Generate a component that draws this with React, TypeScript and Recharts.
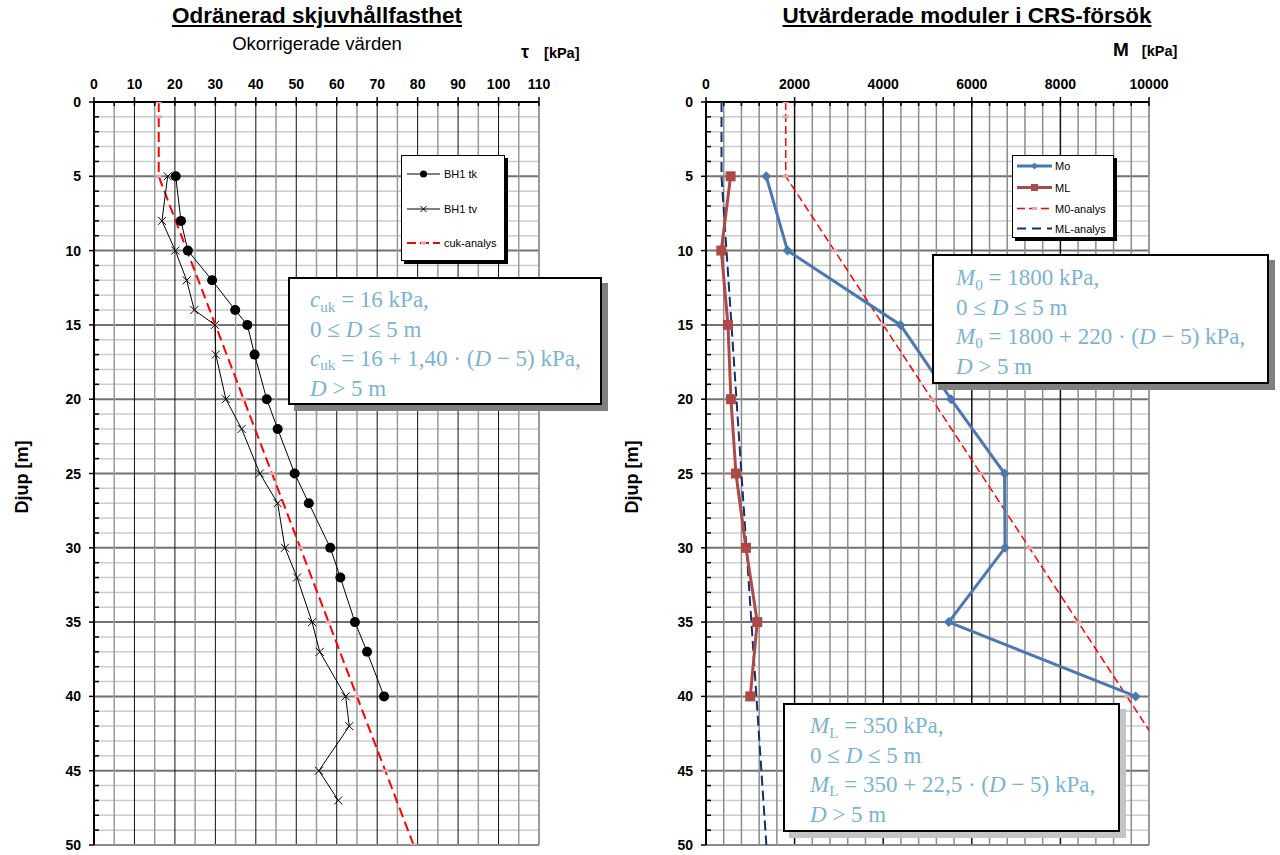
import React from "react";
import { ScatterChart, Scatter, XAxis, YAxis, ReferenceLine } from "recharts";

// ---- Odränerad skjuvhållfasthet (left)
const tkDepth = [5, 8, 10, 12, 14, 15, 17, 20, 22, 25, 27, 30, 32, 35, 37, 40];
const tkTau = [20.2, 21.5, 23.2, 29.2, 34.9, 37.9, 39.7, 42.7, 45.4, 49.6, 53.1, 58.4, 60.9, 64.5, 67.5, 71.7];
const tvDepth = [5, 8, 10, 12, 14, 15, 17, 20, 22, 25, 27, 30, 32, 35, 37, 40, 42, 45, 47];
const tvTau = [18.2, 16.8, 20.1, 22.9, 24.8, 29.9, 30.1, 32.6, 36.5, 41, 45.4, 47.2, 50.2, 53.9, 55.8, 62.2, 63.1, 55.6, 60.4];
const analysisDepth = [0, 1, 5, 10, 15, 20, 25, 30, 35, 40, 45, 50];
const cukTau = [16, 16, 16, 23, 30, 37, 44, 51, 58, 65, 72, 79];

// ---- Utvärderade moduler i CRS-försök (right)
const crsDepth = [5, 10, 15, 20, 25, 30, 35, 40];
const moValues = [1360, 1840, 4390, 5530, 6740, 6750, 5480, 9700];
const mlValues = [555, 345, 496, 563, 676, 902, 1157, 999];
const m0Analysis = [1800, 1800, 1800, 2900, 4000, 5100, 6200, 7300, 8400, 9500, 10600, 11700];
const mlAnalysis = [350, 350, 350, 462.5, 575, 687.5, 800, 912.5, 1025, 1137.5, 1250, 1362.5];

// ticks / grid
const tauLabels = [0, 10, 20, 30, 40, 50, 60, 70, 80, 90, 100, 110];
const mLabels = [0, 2000, 4000, 6000, 8000, 10000];
const depthLabels = [0, 5, 10, 15, 20, 25, 30, 35, 40, 45, 50];
const depthTicks = Array.from({ length: 51 }, (_, i) => i);
const tauTicks = Array.from({ length: 23 }, (_, i) => i * 5);
const mTicks = Array.from({ length: 26 }, (_, i) => i * 400);

const pts = (vals: number[], depths: number[]) => vals.map((v, i) => ({ v, d: depths[i] }));

const SANS = "'Liberation Sans', Arial, sans-serif";
const SERIF = "'Liberation Serif', 'DejaVu Serif', serif";
const MATH = "#7ab3d3";

// markers
const Dot = (p: any) => <circle cx={p.cx} cy={p.cy} r={5} fill="#000" />;
const XMark = (p: any) => (
  <path d={`M${p.cx - 4},${p.cy - 4}L${p.cx + 4},${p.cy + 4}M${p.cx - 4},${p.cy + 4}L${p.cx + 4},${p.cy - 4}`} stroke="#000" strokeWidth={1} />
);
const PinkDash = (p: any) => <rect x={p.cx - 3} y={p.cy - 1.5} width={6} height={3} fill="#e8a3a3" />;
const Diamond = (p: any) => (
  <path d={`M${p.cx},${p.cy - 5}L${p.cx + 5},${p.cy}L${p.cx},${p.cy + 5}L${p.cx - 5},${p.cy}Z`} fill="#4a78b2" />
);
const Square = (p: any) => <rect x={p.cx - 5} y={p.cy - 5} width={10} height={10} fill="#ad4a47" />;
const NoMark = () => <g />;

function DepthTick(props: any) {
  const { x, y, payload } = props;
  const v = payload.value;
  const major = depthLabels.includes(v);
  return (
    <g>
      {major ? (
        <line x1={x - 5} x2={x} y1={y} y2={y} stroke="#000" strokeWidth={1.5} />
      ) : (
        <line x1={x} x2={x + 5} y1={y} y2={y} stroke="#000" strokeWidth={1.5} />
      )}
      {major && (
        <text x={x - 13} y={y + 5} textAnchor="end" fontFamily={SANS} fontWeight="bold" fontSize={14} fill="#000">
          {v}
        </text>
      )}
    </g>
  );
}

const topTick = (labels: number[]) => (props: any) => {
  const { x, y, payload } = props;
  const v = payload.value;
  const major = labels.includes(v);
  return (
    <g>
      {major ? (
        <line x1={x} x2={x} y1={y - 5} y2={y + 4} stroke="#000" strokeWidth={1.5} />
      ) : (
        <line x1={x} x2={x} y1={y} y2={y + 4} stroke="#000" strokeWidth={1.5} />
      )}
      {major && (
        <text x={x} y={y - 13} textAnchor="middle" fontFamily={SANS} fontWeight="bold" fontSize={14} fill="#000">
          {v}
        </text>
      )}
    </g>
  );
};

function DepthGrid() {
  return (
    <>
      {depthTicks
        .filter((d) => d % 5 !== 0)
        .map((d) => (
          <ReferenceLine key={"hm" + d} y={d} stroke="#cccccc" strokeWidth={1.5} />
        ))}
      {depthTicks
        .filter((d) => d % 5 === 0 && d > 0)
        .map((d) => (
          <ReferenceLine key={"hM" + d} y={d} stroke="#727272" strokeWidth={2} />
        ))}
    </>
  );
}

type LegendItem = { name: string; color: string; width: number; dash?: string; marker: string };

const leftLegend: LegendItem[] = [
  { name: "BH1 tk", color: "#000", width: 1, marker: "dot" },
  { name: "BH1 tv", color: "#000", width: 1, marker: "x" },
  { name: "cuk-analys", color: "#ff0000", width: 2, dash: "9 4", marker: "pink" },
];
const rightLegend: LegendItem[] = [
  { name: "Mo", color: "#4a78b2", width: 3, marker: "diamond" },
  { name: "ML", color: "#ad4a47", width: 3, marker: "square" },
  { name: "M0-analys", color: "#ff0000", width: 1.5, dash: "8 4", marker: "pink" },
  { name: "ML-analys", color: "#10306e", width: 2, dash: "9 6", marker: "none" },
];

function LegendBox({ items, left, top, width, height, rows, x1, x2, tx }: any) {
  return (
    <div
      style={{
        position: "absolute",
        left,
        top,
        width,
        height,
        background: "#fff",
        border: "1px solid #000",
        boxShadow: "3px 3px 0 #000",
      }}
    >
      <svg width={width} height={height} style={{ display: "block" }}>
        {items.map((it: LegendItem, i: number) => {
          const y = rows[i];
          const cx = (x1 + x2) / 2;
          return (
            <g key={it.name}>
              <line x1={x1} x2={x2} y1={y} y2={y} stroke={it.color} strokeWidth={it.width} strokeDasharray={it.dash} />
              {it.marker === "dot" && <circle cx={cx} cy={y} r={3.5} fill="#000" />}
              {it.marker === "x" && (
                <path d={`M${cx - 3},${y - 3}L${cx + 3},${y + 3}M${cx - 3},${y + 3}L${cx + 3},${y - 3}`} stroke="#000" />
              )}
              {it.marker === "pink" && <rect x={cx - 2.5} y={y - 1.5} width={5} height={3} fill="#e8a3a3" />}
              {it.marker === "diamond" && (
                <path d={`M${cx},${y - 3.5}L${cx + 3.5},${y}L${cx},${y + 3.5}L${cx - 3.5},${y}Z`} fill={it.color} />
              )}
              {it.marker === "square" && <rect x={cx - 3.5} y={y - 3.5} width={7} height={7} fill={it.color} />}
              <text x={tx} y={y + 4} fontFamily={SANS} fontSize={11} fill="#000">
                {it.name}
              </text>
            </g>
          );
        })}
      </svg>
    </div>
  );
}

const Sub = ({ children }: any) => (
  <span style={{ fontSize: "0.66em", position: "relative", top: "0.3em", fontStyle: "normal" }}>{children}</span>
);

function MathBox({ left, top, width, height, padTop, padLeft, shadow, lines }: any) {
  return (
    <div
      style={{
        position: "absolute",
        left,
        top,
        width,
        height,
        boxSizing: "border-box",
        background: "#fff",
        border: "2px solid #000",
        boxShadow: `6px 6px 0 ${shadow}`,
        paddingTop: padTop,
        paddingLeft: padLeft,
        fontFamily: SERIF,
        fontSize: 23,
        lineHeight: "28.3px",
        color: MATH,
        whiteSpace: "nowrap",
      }}
    >
      {lines.map((l: any, i: number) => (
        <div key={i}>{l}</div>
      ))}
    </div>
  );
}

const I = ({ children }: any) => <i>{children}</i>;

export default function App() {
  return (
    <div style={{ position: "absolute", left: 0, top: 0, width: 1280, height: 855, background: "#fff", overflow: "hidden" }}>
      {/* titles */}
      <div style={{ position: "absolute", left: 0, width: 634, top: 3, textAlign: "center", fontFamily: SANS, fontWeight: "bold", fontSize: 22.5, textDecoration: "underline" }}>
        Odränerad skjuvhållfasthet
      </div>
      <div style={{ position: "absolute", left: 0, width: 634, top: 33, textAlign: "center", fontFamily: SANS, fontSize: 18.5 }}>
        Okorrigerade värden
      </div>
      <div style={{ position: "absolute", left: 521, top: 42, fontFamily: SANS, fontWeight: "bold", whiteSpace: "nowrap" }}>
        <span style={{ fontSize: 18 }}>τ</span>
        <span style={{ fontSize: 14.5, marginLeft: 15 }}>[kPa]</span>
      </div>
      <div style={{ position: "absolute", left: 640, width: 654, top: 3, textAlign: "center", fontFamily: SANS, fontWeight: "bold", fontSize: 22.5, textDecoration: "underline" }}>
        Utvärderade moduler i CRS-försök
      </div>
      <div style={{ position: "absolute", left: 1113, top: 39, fontFamily: SANS, fontWeight: "bold", whiteSpace: "nowrap" }}>
        <span style={{ fontSize: 19 }}>M</span>
        <span style={{ fontSize: 14.5, marginLeft: 13 }}>[kPa]</span>
      </div>
      <div style={{ position: "absolute", left: 22, top: 477, transform: "translate(-50%,-50%) rotate(-90deg)", fontFamily: SANS, fontWeight: "bold", fontSize: 18, whiteSpace: "nowrap" }}>
        Djup [m]
      </div>
      <div style={{ position: "absolute", left: 632, top: 477, transform: "translate(-50%,-50%) rotate(-90deg)", fontFamily: SANS, fontWeight: "bold", fontSize: 18, whiteSpace: "nowrap" }}>
        Djup [m]
      </div>

      {/* left chart */}
      <div style={{ position: "absolute", left: 0, top: 0 }}>
        <ScatterChart width={640} height={855} margin={{ top: 72, right: 101, bottom: 10, left: 34 }}>
          <XAxis
            type="number"
            dataKey="v"
            orientation="top"
            domain={[0, 110]}
            ticks={tauTicks}
            interval={0}
            height={30}
            tickSize={0}
            tickMargin={0}
            tick={topTick(tauLabels)}
            axisLine={{ stroke: "#000", strokeWidth: 2 }}
            allowDataOverflow
          />
          <YAxis
            type="number"
            dataKey="d"
            reversed
            domain={[0, 50]}
            ticks={depthTicks}
            interval={0}
            width={60}
            tickSize={0}
            tickMargin={0}
            tick={<DepthTick />}
            axisLine={{ stroke: "#000", strokeWidth: 2 }}
            allowDataOverflow
          />
          {DepthGrid()}
          {tauTicks
            .filter((t) => t % 10 === 5)
            .map((t) => (
              <ReferenceLine key={"v5" + t} x={t} stroke="#9a9a9a" strokeWidth={1.5} />
            ))}
          {tauLabels
            .filter((t) => t > 0 && t < 110)
            .map((t) => (
              <ReferenceLine key={"v10" + t} x={t} stroke="#111" strokeWidth={1} />
            ))}
          <ReferenceLine x={110} stroke="#9a9a9a" strokeWidth={2} />
          <ReferenceLine y={50} stroke="#8a8a8a" strokeWidth={2} />
          <Scatter
            name="cuk-analys"
            data={pts(cukTau, analysisDepth)}
            line={{ stroke: "#ff0000", strokeWidth: 2, strokeDasharray: "10 5" }}
            shape={PinkDash}
            isAnimationActive={false}
          />
          <Scatter
            name="BH1 tv"
            data={pts(tvTau, tvDepth)}
            line={{ stroke: "#000", strokeWidth: 1 }}
            shape={XMark}
            isAnimationActive={false}
          />
          <Scatter
            name="BH1 tk"
            data={pts(tkTau, tkDepth)}
            line={{ stroke: "#000", strokeWidth: 1 }}
            shape={Dot}
            isAnimationActive={false}
          />
        </ScatterChart>
      </div>

      {/* right chart */}
      <div style={{ position: "absolute", left: 640, top: 0 }}>
        <ScatterChart width={640} height={855} margin={{ top: 72, right: 131, bottom: 10, left: 6 }}>
          <XAxis
            type="number"
            dataKey="v"
            orientation="top"
            domain={[0, 10000]}
            ticks={mTicks}
            interval={0}
            height={30}
            tickSize={0}
            tickMargin={0}
            tick={topTick(mLabels)}
            axisLine={{ stroke: "#000", strokeWidth: 2 }}
            allowDataOverflow
          />
          <YAxis
            type="number"
            dataKey="d"
            reversed
            domain={[0, 50]}
            ticks={depthTicks}
            interval={0}
            width={60}
            tickSize={0}
            tickMargin={0}
            tick={<DepthTick />}
            axisLine={{ stroke: "#000", strokeWidth: 2 }}
            allowDataOverflow
          />
          {DepthGrid()}
          {mTicks
            .filter((t) => t > 0 && t < 10000 && t % 2000 !== 0)
            .map((t) => (
              <ReferenceLine key={"vm" + t} x={t} stroke="#8c8c8c" strokeWidth={1.5} />
            ))}
          {mLabels
            .filter((t) => t > 0 && t < 10000)
            .map((t) => (
              <ReferenceLine key={"vM" + t} x={t} stroke="#111" strokeWidth={1.5} />
            ))}
          <ReferenceLine x={10000} stroke="#9a9a9a" strokeWidth={2} />
          <ReferenceLine y={50} stroke="#8a8a8a" strokeWidth={2} />
          <Scatter
            name="ML-analys"
            data={pts(mlAnalysis, analysisDepth)}
            line={{ stroke: "#10306e", strokeWidth: 2, strokeDasharray: "10 5" }}
            shape={NoMark}
            isAnimationActive={false}
          />
          <Scatter
            name="M0-analys"
            data={pts(m0Analysis, analysisDepth)}
            line={{ stroke: "#ff0000", strokeWidth: 1.5, strokeDasharray: "8 4" }}
            shape={PinkDash}
            isAnimationActive={false}
          />
          <Scatter
            name="ML"
            data={pts(mlValues, crsDepth)}
            line={{ stroke: "#ad4a47", strokeWidth: 3 }}
            shape={Square}
            isAnimationActive={false}
          />
          <Scatter
            name="Mo"
            data={pts(moValues, crsDepth)}
            line={{ stroke: "#4a78b2", strokeWidth: 3 }}
            shape={Diamond}
            isAnimationActive={false}
          />
        </ScatterChart>
      </div>

      {/* legends */}
      <LegendBox items={leftLegend} left={401} top={155} width={102} height={104} rows={[18, 53, 87]} x1={5} x2={38} tx={42} />
      <LegendBox items={rightLegend} left={1012} top={155} width={100} height={81} rows={[10, 31.5, 52.5, 72.5]} x1={4} x2={39} tx={42} />

      {/* analysis formulas */}
      <MathBox
        left={288}
        top={277}
        width={314}
        height={128}
        padTop={7}
        padLeft={20}
        shadow="#808080"
        lines={[
          <>
            <I>c</I><Sub>uk</Sub> = 16 kPa,
          </>,
          <>
            0 ≤ <I>D</I> ≤ 5 m
          </>,
          <>
            <I>c</I><Sub>uk</Sub> = 16 + 1,40 · (<I>D</I> − 5) kPa,
          </>,
          <>
            <I>D</I> &gt; 5 m
          </>,
        ]}
      />
      <MathBox
        left={932}
        top={254}
        width={337}
        height={130}
        padTop={8}
        padLeft={22}
        shadow="#808080"
        lines={[
          <>
            <I>M</I><Sub>0</Sub> = 1800 kPa,
          </>,
          <>
            0 ≤ <I>D</I> ≤ 5 m
          </>,
          <>
            <I>M</I><Sub>0</Sub> = 1800 + 220 · (<I>D</I> − 5) kPa,
          </>,
          <>
            <I>D</I> &gt; 5 m
          </>,
        ]}
      />
      <MathBox
        left={783}
        top={703}
        width={337}
        height={129}
        padTop={7}
        padLeft={25}
        shadow="#c4c4c4"
        lines={[
          <>
            <I>M</I><Sub>L</Sub> = 350 kPa,
          </>,
          <>
            0 ≤ <I>D</I> ≤ 5 m
          </>,
          <>
            <I>M</I><Sub>L</Sub> = 350 + 22,5 · (<I>D</I> − 5) kPa,
          </>,
          <>
            <I>D</I> &gt; 5 m
          </>,
        ]}
      />
    </div>
  );
}
